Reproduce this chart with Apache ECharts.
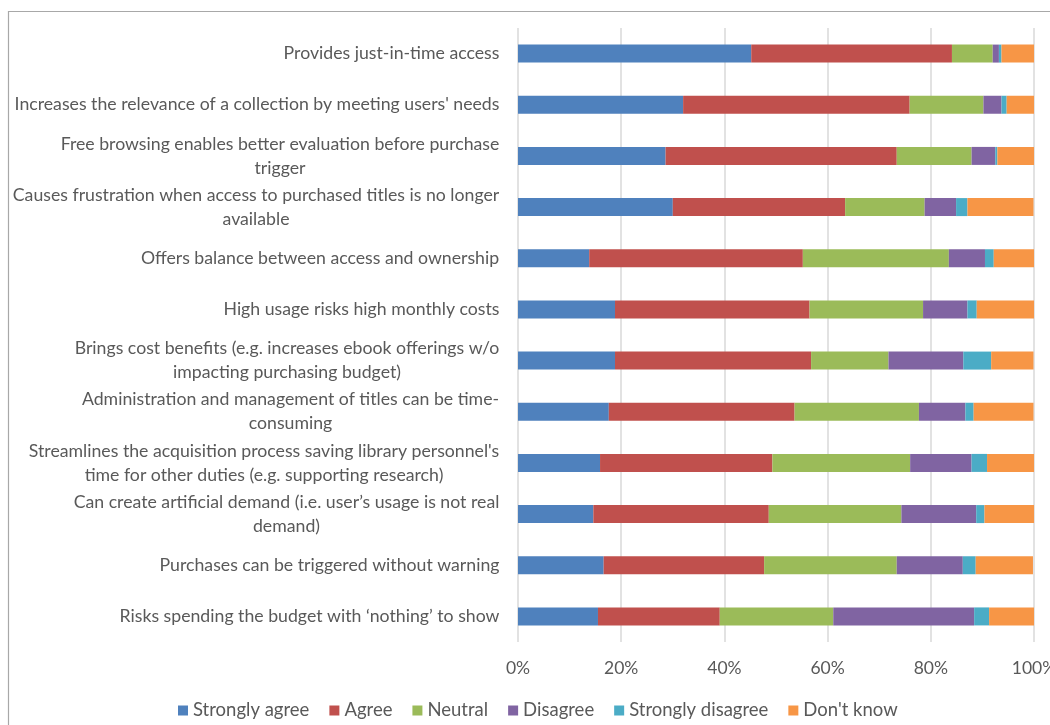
<!DOCTYPE html>
<html>
<head>
<meta charset="utf-8">
<script src="https://cdn.jsdelivr.net/npm/echarts@6/dist/echarts.min.js"></script>
<style>
html,body{margin:0;padding:0;background:#fff;}
#chart{width:1050px;height:725px;}
</style>
</head>
<body>
<div id="chart"></div>
<script>
const categories = [
  "Provides just-in-time access",
  "Increases the relevance of a collection by meeting users' needs",
  "Free browsing enables better evaluation before purchase\ntrigger",
  "Causes frustration when access to purchased titles is no longer\navailable",
  "Offers balance between access and ownership",
  "High usage risks high monthly costs",
  "Brings cost benefits (e.g. increases ebook offerings w/o\nimpacting purchasing budget)",
  "Administration and management of titles can be time-\nconsuming",
  "Streamlines the acquisition process saving library personnel's\ntime for other duties (e.g. supporting research)",
  "Can create artificial demand (i.e. user\u2019s usage is not real\ndemand)",
  "Purchases can be triggered without warning",
  "Risks spending the budget with \u2018nothing\u2019 to show"
];
const seriesNames = ["Strongly agree","Agree","Neutral","Disagree","Strongly disagree","Don't know"];
const stronglyAgree    = [45.2, 32.0, 28.6, 30.0, 13.8, 18.8, 18.8, 17.6, 15.9, 14.6, 16.6, 15.5];
const agree            = [38.9, 43.9, 44.8, 33.4, 41.4, 37.7, 38.0, 36.0, 33.4, 34.0, 31.1, 23.6];
const neutral          = [ 7.9, 14.3, 14.5, 15.4, 28.3, 22.0, 15.0, 24.1, 26.7, 25.7, 25.7, 22.0];
const disagree         = [ 1.2,  3.5,  4.6,  6.1,  7.0,  8.6, 14.5,  9.0, 11.9, 14.5, 12.8, 27.3];
const stronglyDisagree = [ 0.5,  1.0,  0.4,  2.2,  1.7,  1.8,  5.4,  1.6,  3.0,  1.6,  2.5,  2.9];
const dontKnow         = [ 6.3,  5.4,  7.1, 12.8,  7.9, 11.1,  8.2, 11.6,  9.1,  9.6, 11.1,  8.7];
const tickLabels = ["0%","20%","40%","60%","80%","100%"];

const colors = ["#4F81BD","#C0504D","#9BBB59","#8064A2","#4BACC6","#F79646"];
const seriesData = [stronglyAgree, agree, neutral, disagree, stronglyDisagree, dontKnow];

const FONT = "Lato";
const FS = 17.7;
const TXT = "#595959";

// measure lines so wrapped labels are centred within their right-aligned block
const cv = document.createElement('canvas');
const ctx = cv.getContext('2d');
ctx.font = FS + "px " + FONT;
const rich = {};
categories.forEach((c, i) => {
  const w = Math.max(...c.split("\n").map(l => ctx.measureText(l).width));
  rich["c" + i] = {width: Math.ceil(w) + 1, align: "center", fontSize: FS, fontFamily: FONT, color: TXT, lineHeight: 24};
});

const chart = echarts.init(document.getElementById('chart'), null, {renderer: 'canvas'});
chart.setOption({
  animation: false,
  color: colors,
  textStyle: {fontFamily: FONT},
  graphic: [{
    type: 'rect', shape: {x: 8.5, y: 11.5, width: 1200, height: 900},
    style: {fill: 'none', stroke: '#a8a8a8', lineWidth: 1.2}, silent: true, z: -1
  }],
  grid: {left: 518, right: 16, top: 28, bottom: 83, containLabel: false, outerBoundsMode: 'none'},
  legend: {
    data: seriesNames,
    top: 701,
    left: 178,
    padding: 0,
    icon: 'rect',
    itemWidth: 10,
    itemHeight: 10,
    itemGap: 20,
    textStyle: {fontSize: 18.5, color: TXT, fontFamily: FONT}
  },
  xAxis: {
    type: 'value', min: 0, max: 100, interval: 20,
    axisLine: {show: false}, axisTick: {show: false},
    splitLine: {show: true, lineStyle: {color: '#d9d9d9', width: 1.5}},
    axisLabel: {
      fontSize: 17.5, color: TXT, fontFamily: FONT, margin: 17,
      formatter: v => tickLabels[Math.round(v / 20)]
    }
  },
  yAxis: {
    type: 'category', data: categories, inverse: true,
    axisLine: {show: false}, axisTick: {show: false},
    axisLabel: {
      margin: 18, align: 'right', interval: 0,
      formatter: (value, idx) => value.split("\n").map(l => "{c" + idx + "|" + l + "}").join("\n"),
      rich: rich
    }
  },
  series: seriesNames.map((n, k) => ({
    name: n, type: 'bar', stack: 'total', barWidth: 18,
    data: seriesData[k],
    itemStyle: {color: colors[k]},
    emphasis: {disabled: true}
  }))
});
</script>
</body>
</html>
